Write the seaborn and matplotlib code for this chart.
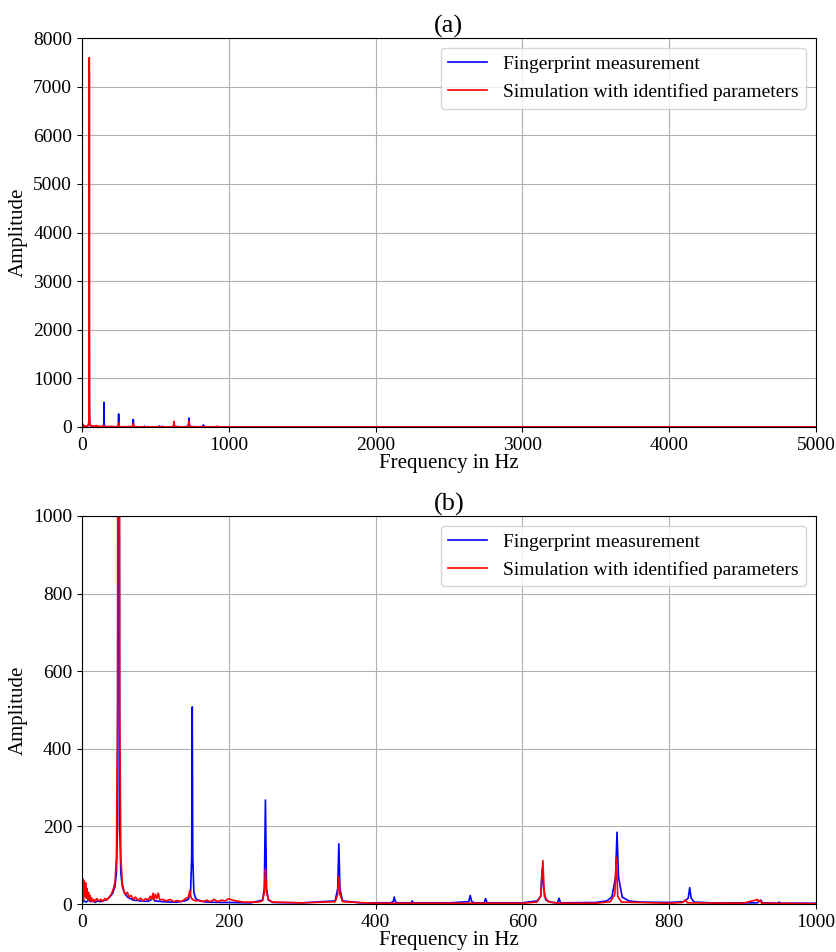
import numpy as np
import pandas as pd
import seaborn as sns
import matplotlib.pyplot as plt

# vertices (frequency in Hz, amplitude)
meas_freq = [0, 3, 6, 9, 12, 15, 18, 21, 25, 30, 34, 38, 42, 45, 47, 48.5, 49.5, 50, 50.5, 51.5,
             53, 55, 58, 62, 66, 70, 75, 80, 90, 95, 97, 99, 110, 120, 130, 140, 145, 148, 149.5,
             150.3, 151, 152.5, 155, 160, 170, 190, 200, 230, 246, 248.5, 250, 251.5, 254, 260,
             300, 345, 348.5, 350, 351.5, 355, 380, 420, 424, 425.5, 427, 430, 449, 450, 451,
             500, 527, 529, 531, 535, 548, 550, 552, 600, 620, 625, 627, 629, 632, 640, 648, 650,
             652, 700, 715, 722, 727, 729, 731, 736, 745, 760, 800, 820, 826, 828, 830, 834, 860,
             920, 925, 927, 948, 950, 952, 1000, 1100, 1500, 2000, 3000, 4000, 5000]
meas_amp = [3, 8, 5, 10, 6, 9, 4, 8, 6, 9, 12, 18, 28, 45, 80, 200, 1500, 7300, 1500, 200,
            80, 45, 28, 18, 14, 10, 9, 8, 7, 12, 25, 8, 6, 5, 5, 8, 12, 30, 120,
            508, 120, 30, 14, 8, 5, 4, 4, 3, 10, 40, 268, 40, 10, 4,
            3, 8, 40, 155, 40, 8, 3, 3, 6, 18, 6, 3, 3, 8, 3,
            3, 6, 22, 6, 3, 3, 14, 3, 3, 8, 20, 90, 40, 10, 4, 3, 15,
            3, 4, 8, 18, 70, 185, 70, 18, 8, 5, 4, 6, 15, 42, 15, 5, 3,
            3, 10, 3, 2, 5, 2, 2, 2, 1.5, 1.5, 1, 1, 1]

sim_freq = [0, 1, 2, 3, 4, 5, 6, 7, 8, 9, 10, 11, 12, 13, 14, 16, 18, 20, 23, 26, 28, 31, 34, 37,
            40, 43, 45, 47, 48.5, 49.5, 50, 50.5, 51.5, 53, 55, 57, 59, 62, 64, 67, 70, 73, 76,
            80, 83, 87, 90, 93, 95, 97, 98, 100, 102, 104, 106, 110, 115, 120, 125, 130, 135,
            140, 145, 147, 149, 152, 155, 160, 165, 170, 175, 180, 185, 190, 195, 200, 205, 210,
            220, 240, 246, 248.5, 250, 251.5, 254, 257, 260, 300, 345, 348.5, 350, 351.5, 355,
            400, 600, 620, 625, 628, 630, 635, 650, 700, 720, 726, 728, 730, 735, 800, 818, 822,
            825, 900, 918, 920, 922, 924, 926, 1000, 1100, 1500, 2000, 3000, 4000, 5000]
sim_amp = [30, 65, 10, 60, 20, 55, 15, 40, 10, 30, 10, 22, 8, 16, 6, 12, 6, 14, 8, 12, 6, 14, 10,
           18, 25, 40, 55, 120, 500, 3000, 7600, 3000, 500, 120, 55, 35, 25, 30, 18, 22, 12, 18,
           10, 15, 8, 14, 10, 20, 12, 28, 10, 25, 14, 28, 10, 12, 8, 12, 6, 9, 6,
           12, 18, 35, 15, 10, 8, 10, 6, 10, 6, 12, 6, 10, 8, 14, 10, 8,
           5, 5, 8, 30, 90, 30, 12, 8, 5, 3, 6, 25, 70, 25, 6,
           2, 2, 5, 20, 112, 20, 6, 2, 2, 6, 25, 120, 20, 5, 2, 4, 10,
           3, 2, 10, 12, 6, 10, 2, 1, 1, 1, 1, 1, 1, 1]

meas = pd.DataFrame({'freq': meas_freq, 'amp': meas_amp})
sim = pd.DataFrame({'freq': sim_freq, 'amp': sim_amp})

plt.rcParams['font.family'] = ['Liberation Serif', 'DejaVu Serif']

fig = plt.figure(figsize=(8.36, 9.52), dpi=100)
ax1 = fig.add_axes([0.098, 0.5515, 0.878, 0.4085])
ax2 = fig.add_axes([0.098, 0.0504, 0.878, 0.4076])

panels = [(ax1, '(a)', 5000, 8000, 1000), (ax2, '(b)', 1000, 1000, 200)]
for ax, title, xmax, ymax, ystep in panels:
    sns.lineplot(data=meas, x='freq', y='amp', ax=ax, color='blue', lw=1.2,
                 estimator=None, sort=False, label='Fingerprint measurement')
    sns.lineplot(data=sim, x='freq', y='amp', ax=ax, color='red', lw=1.2,
                 estimator=None, sort=False, label='Simulation with identified parameters')
    ax.set_xlim(0, xmax)
    ax.set_ylim(0, ymax)
    ax.set_yticks(np.arange(0, ymax + 1, ystep))
    ax.grid(True, color='#b0b0b0', lw=0.8)
    ax.set_axisbelow(True)
    ax.set_title(title, fontsize=19, pad=4)
    ax.set_xlabel('Frequency in Hz', fontsize=15, labelpad=0)
    ax.set_ylabel('Amplitude', fontsize=15)
    ax.tick_params(labelsize=14)
    ax.legend(loc='upper right', fontsize=14)

fig.savefig('out.png', dpi=100)
